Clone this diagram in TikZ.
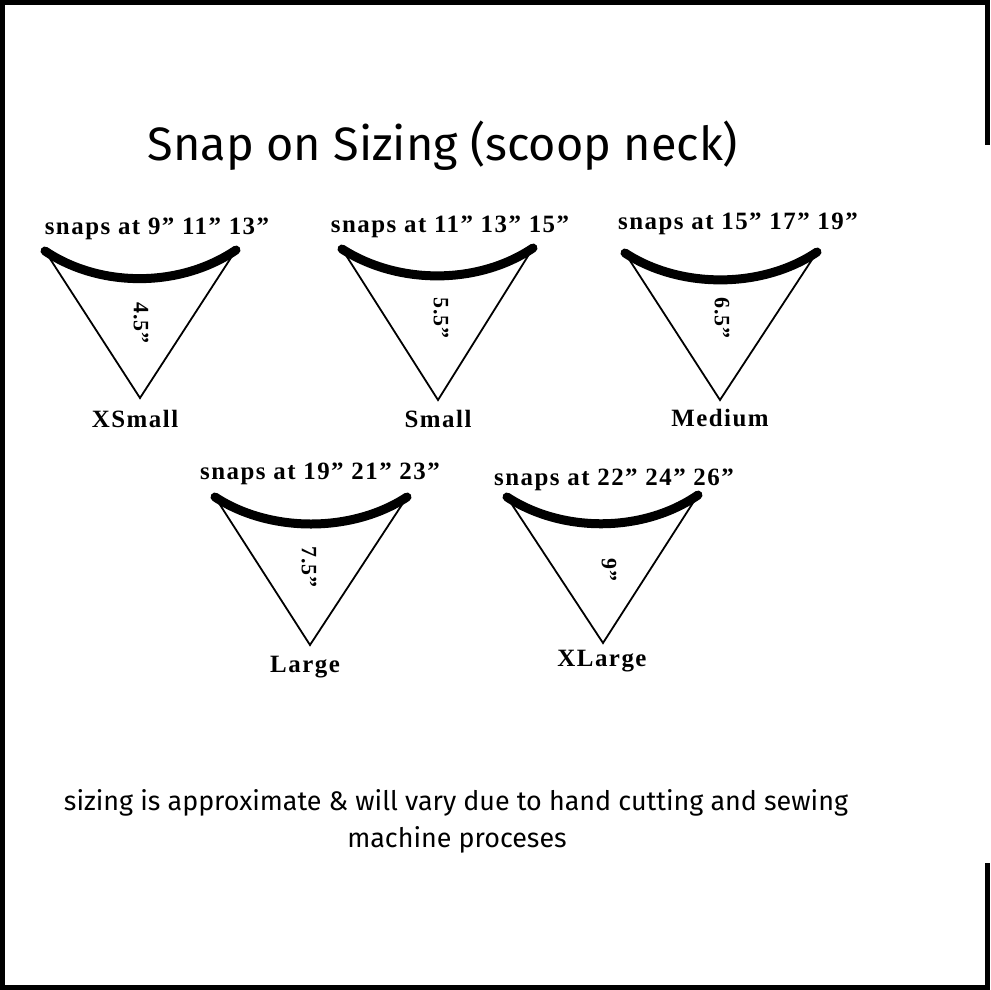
\documentclass[tikz,border=0pt]{standalone}
\usepackage{fontspec}
\setmainfont{Liberation Serif}
\newfontfamily\labelfont[LetterSpace=6]{Liberation Serif}
\newfontfamily\measfont[LetterSpace=4]{Liberation Serif}
\newfontfamily\handfont{Fira Sans}
\begin{document}
\begin{tikzpicture}[x=1bp,y=-1bp,
  framebar/.style={fill=black,draw=none},
  neckline/.style={line width=9bp,line cap=round},
  sideline/.style={line width=1.8bp,line join=miter},
  snaplbl/.style={font=\labelfont\bfseries\fontsize{25}{28}\selectfont,inner sep=0pt},
  sizelbl/.style={font=\labelfont\bfseries\fontsize{25}{28}\selectfont,inner sep=0pt},
  measlbl/.style={font=\measfont\bfseries\fontsize{22}{24}\selectfont,inner sep=0pt,rotate=-90},
  handtxt/.style={font=\handfont,inner sep=0pt}]
\useasboundingbox (0,0) rectangle (990,990);
\fill[white] (0,0) rectangle (990,990);
% frame
\fill[framebar] (0,0) rectangle (990,5);
\fill[framebar] (0,0) rectangle (5,990);
\fill[framebar] (0,985) rectangle (990,990);
\fill[framebar] (985,0) rectangle (990,145);
\fill[framebar] (985,863) rectangle (990,990);
% title
\node[handtxt,font=\handfont\fontsize{47}{50}\selectfont] (title) at (443,146) {Snap on Sizing (scoop neck)};
% XSmall
\coordinate (xsL) at (45,251);
\coordinate (xsR) at (236,250);
\coordinate (xsB) at (140,398);
\draw[sideline] (xsL) -- (xsB) -- (xsR);
\draw[neckline] (xsL) .. controls (100,288) and (180,288) .. (xsR);
\node[snaplbl] (xsSnap) at (157,229) {snaps at 9” 11” 13”};
\node[measlbl] (xsMeas) at (141,323) {4.5”};
\node[sizelbl] (xsName) at (135,419) {XSmall};
% Small
\coordinate (smL) at (342,249);
\coordinate (smR) at (533,248);
\coordinate (smB) at (438,400);
\draw[sideline] (smL) -- (smB) -- (smR);
\draw[neckline] (smL) .. controls (398,285) and (478,285) .. (smR);
\node[snaplbl] (smSnap) at (450,227) {snaps at 11” 13” 15”};
\node[measlbl] (smMeas) at (441,318) {5.5”};
\node[sizelbl] (smName) at (438,419) {Small};
% Medium
\coordinate (mdL) at (625,253);
\coordinate (mdR) at (817,252);
\coordinate (mdB) at (720,400);
\draw[sideline] (mdL) -- (mdB) -- (mdR);
\draw[neckline] (mdL) .. controls (680,289) and (762,289) .. (mdR);
\node[snaplbl] (mdSnap) at (738,224) {snaps at 15” 17” 19”};
\node[measlbl] (mdMeas) at (722,318) {6.5”};
\node[sizelbl] (mdName) at (720,418) {Medium};
% Large
\coordinate (lgL) at (215,497);
\coordinate (lgR) at (407,497);
\coordinate (lgB) at (310,645);
\draw[sideline] (lgL) -- (lgB) -- (lgR);
\draw[neckline] (lgL) .. controls (270,533) and (352,533) .. (lgR);
\node[snaplbl] (lgSnap) at (320,474) {snaps at 19” 21” 23”};
\node[measlbl] (lgMeas) at (309,567) {7.5”};
\node[sizelbl] (lgName) at (305,667) {Large};
% XLarge
\coordinate (xlL) at (507,497);
\coordinate (xlR) at (698,495);
\coordinate (xlB) at (603,643);
\draw[sideline] (xlL) -- (xlB) -- (xlR);
\draw[neckline] (xlL) .. controls (562,533) and (643,533) .. (xlR);
\node[snaplbl] (xlSnap) at (614,480) {snaps at 22” 24” 26”};
\node[measlbl] (xlMeas) at (609,570) {9”};
\node[sizelbl] (xlName) at (602,661) {XLarge};
% note
\node[handtxt,font=\handfont\fontsize{27}{30}\selectfont] (note1) at (456,803) {sizing is approximate \& will vary due to hand cutting and sewing};
\node[handtxt,font=\handfont\fontsize{27}{30}\selectfont] (note2) at (457,840) {machine proceses};
\end{tikzpicture}
\end{document}
